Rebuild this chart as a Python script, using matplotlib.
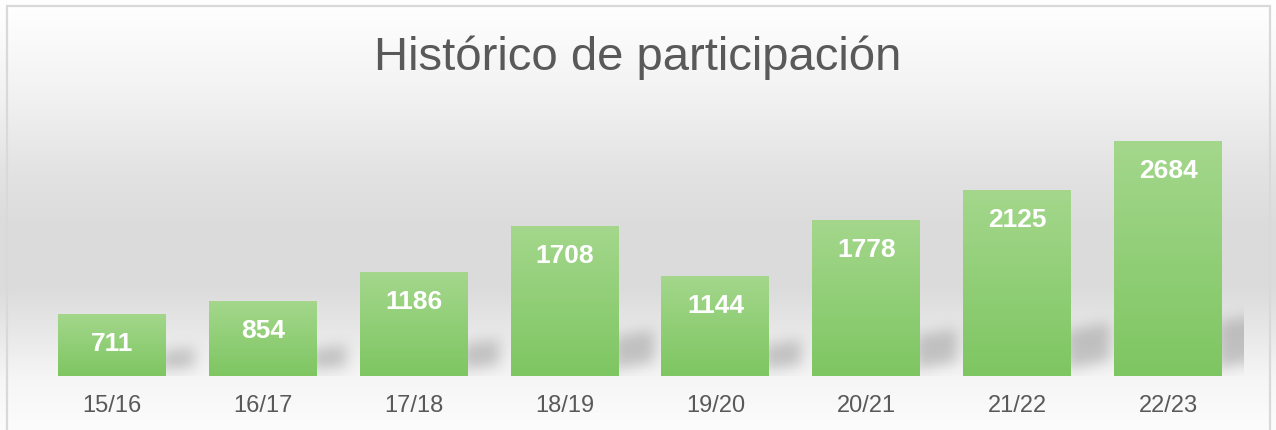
import numpy as np
import matplotlib
matplotlib.use("Agg")
import matplotlib.pyplot as plt
from matplotlib.patches import Rectangle
from matplotlib.path import Path

# ----------------------------------------------------------------------------------------------------------------------
# Data
# ----------------------------------------------------------------------------------------------------------------------
seasons = ["15/16", "16/17", "17/18", "18/19", "19/20", "20/21", "21/22", "22/23"]
participants = [711, 854, 1186, 1708, 1144, 1778, 2125, 2684]
title = "Histórico de participación"

# ----------------------------------------------------------------------------------------------------------------------
# Plot settings
# ----------------------------------------------------------------------------------------------------------------------
plt.rcParams["font.family"] = ["Liberation Sans", "DejaVu Sans"]
text_grey = "#595959"
bar_top_rgb = np.array([164, 215, 140]) / 255
bar_bottom_rgb = np.array([126, 198, 98]) / 255
bar_width = 0.715
y_max = 3000
ax_w_px, ax_h_px = 1207, 263


def box_blur(a, r, axis):
    pad = [(0, 0), (0, 0)]
    pad[axis] = (r + 1, r)
    c = np.cumsum(np.pad(a, pad, mode="edge"), axis=axis)
    n = a.shape[axis]
    hi = np.take(c, np.arange(2 * r + 1, 2 * r + 1 + n), axis=axis)
    lo = np.take(c, np.arange(0, n), axis=axis)
    return (hi - lo) / (2 * r + 1)


fig = plt.figure(figsize=(12.76, 4.31), dpi=100)

# background: vertical grey gradient over the whole figure
bg_ax = fig.add_axes([0, 0, 1, 1], zorder=-10)
rows = np.arange(431)
grey = np.interp(rows, [0, 20, 100, 170, 230, 290, 340, 380, 431],
                 [255, 253, 241, 227, 219, 220, 234, 246, 252]) / 255
bg = np.repeat(grey[:, None], 4, axis=1)
bg_ax.imshow(np.dstack([bg, bg, bg]), aspect="auto", extent=[0, 1, 0, 1])
bg_ax.add_patch(Rectangle((7 / 1276, -0.1), 1263 / 1276, 1.1 - 7 / 431, fill=False,
                          edgecolor="#d9d9d9", linewidth=1.6, transform=bg_ax.transAxes))
bg_ax.set_axis_off()

# main axes
ax = fig.add_axes([36.5 / 1276, 54 / 431, ax_w_px / 1276, ax_h_px / 431])
ax.set_facecolor("none")
n = len(seasons)
x = np.arange(n)

# soft shadows to the right of each bar, rasterised and blurred in pixel space
px_per_x = ax_w_px / n
px_per_y = ax_h_px / y_max
gx, gy = np.meshgrid(np.arange(ax_w_px) + 0.5, np.arange(ax_h_px) + 0.5)
pts = np.column_stack([gx.ravel(), gy.ravel()])
mask = np.zeros(ax_w_px * ax_h_px)
for xi, v in zip(x, participants):
    r = (xi + 0.5 + bar_width / 2) * px_per_x
    hb = v * px_per_y
    ht = 16 + 0.2 * hb
    w = 22 + 0.09 * hb
    shadow = Path([(r - 6, 6), (r - 6, 0.85 * ht), (r + w, ht), (r + w, 0.3 * ht)])
    mask = np.maximum(mask, shadow.contains_points(pts))
mask = mask.reshape(ax_h_px, ax_w_px)
for _ in range(3):
    mask = box_blur(mask, 6, 0)
    mask = box_blur(mask, 6, 1)
shadow_img = np.zeros((ax_h_px, ax_w_px, 4))
shadow_img[..., :3] = 0.45
shadow_img[..., 3] = 0.36 * mask
ax.imshow(shadow_img, extent=[-0.5, n - 0.5, 0, y_max], origin="lower",
          aspect="auto", zorder=1, interpolation="bilinear")

# bars with a vertical green gradient
bars = ax.bar(x, participants, width=bar_width, color="none", edgecolor="none", zorder=3)
grad = np.linspace(0, 1, 256)[:, None]
grad_img = bar_top_rgb[None, None, :] * (1 - grad[:, :, None]) + bar_bottom_rgb[None, None, :] * grad[:, :, None]
for bar in bars:
    x0 = bar.get_x()
    h = bar.get_height()
    im = ax.imshow(grad_img, extent=[x0, x0 + bar.get_width(), 0, h], aspect="auto", zorder=3)
    im.set_clip_path(bar)

ax.set_xlim(-0.5, n - 0.5)
ax.set_ylim(0, y_max)

# value labels inside the bars
for xi, v in zip(x, participants):
    ax.annotate(str(v), (xi, v), xytext=(0, -29), textcoords="offset pixels",
                ha="center", va="center", color="white", fontsize=19,
                fontweight="bold", zorder=5)

ax.set_xticks(x, seasons)
ax.set_yticks([])
ax.tick_params(axis="x", length=0, pad=13, labelsize=17, labelcolor=text_grey)
for spine in ax.spines.values():
    spine.set_visible(False)

fig.text(0.5, 1 - 58 / 431, title, ha="center", va="center", fontsize=34, color=text_grey)

fig.savefig("out.png", dpi=100)
plt.close(fig)
